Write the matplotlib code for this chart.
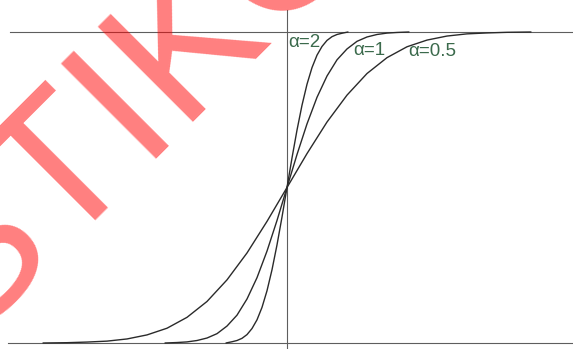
import numpy as np
import matplotlib
matplotlib.use("Agg")
import matplotlib.pyplot as plt

# right halves of the three curves (x in plot units, y normalised to +-1),
# read off the reference; the curves are odd-symmetric about the origin
alpha2_x = [0, 0.125, 0.25, 0.375, 0.5, 0.625, 0.75, 0.875, 1.0, 1.125, 1.25, 1.375, 1.525]
alpha2_y = [0, 0.190, 0.369, 0.529, 0.664, 0.771, 0.851, 0.907, 0.946, 0.970, 0.984, 0.992, 1.0]

alpha1_x = [0, 0.25, 0.5, 0.75, 1.0, 1.25, 1.5, 1.75, 2.0, 2.25, 2.5, 2.75, 3.05]
alpha1_y = [0, 0.212, 0.409, 0.580, 0.717, 0.821, 0.891, 0.940, 0.968, 0.984, 0.993, 0.997, 1.0]

alpha05_x = [0, 0.5, 1.0, 1.5, 2.0, 2.5, 3.0, 3.5, 4.0, 4.5, 5.0, 5.5, 6.1]
alpha05_y = [0, 0.218, 0.421, 0.594, 0.733, 0.835, 0.905, 0.948, 0.974, 0.988, 0.994, 0.998, 1.0]

labels = ["\u03b1=2", "\u03b1=1", "\u03b1=0.5"]


def mirror(xs, ys):
    xs = np.asarray(xs, float)
    ys = np.asarray(ys, float)
    return (np.concatenate([-xs[::-1], xs[1:]]),
            np.concatenate([-ys[::-1], ys[1:]]))


plt.rcParams["font.family"] = ["Liberation Sans", "DejaVu Sans"]

fig = plt.figure(figsize=(5.73, 3.49), dpi=100)
ax = fig.add_axes([0, 0, 1, 1])
ax.axis("off")
ax.set_xlim(-7.175, 7.15)
ax.set_ylim(-1.0386, 1.2058)

axis_col = "#5e5e5e"
ax.plot([-6.925, 7.2], [1, 1], color=axis_col, lw=0.8, zorder=1)
ax.plot([-6.975, 7.2], [-1, -1], color=axis_col, lw=0.8, zorder=1)
ax.plot([0, 0], [1.141, -1.1], color=axis_col, lw=0.8, zorder=1)

for xs, ys in [(alpha2_x, alpha2_y), (alpha1_x, alpha1_y), (alpha05_x, alpha05_y)]:
    x, y = mirror(xs, ys)
    ax.plot(x, y, color="#2a2a2a", lw=1.0, zorder=2, solid_capstyle="round")

lab_col = "#3b6a4c"
lab_pos = [(0.02, 0.904), (1.65, 0.852), (3.025, 0.846)]
for txt, (lx, ly) in zip(labels, lab_pos):
    ax.text(lx, ly, txt, color=lab_col, fontsize=13.5, ha="left", va="baseline", zorder=3)

# watermark, cut by the figure edges as in the reference
ax.text(-8.025, -0.987, "STIKO", color="red", alpha=0.5, fontsize=140,
        rotation=45, rotation_mode="anchor", ha="left", va="baseline",
        zorder=5, clip_on=False)

fig.savefig("out.png", dpi=100)
